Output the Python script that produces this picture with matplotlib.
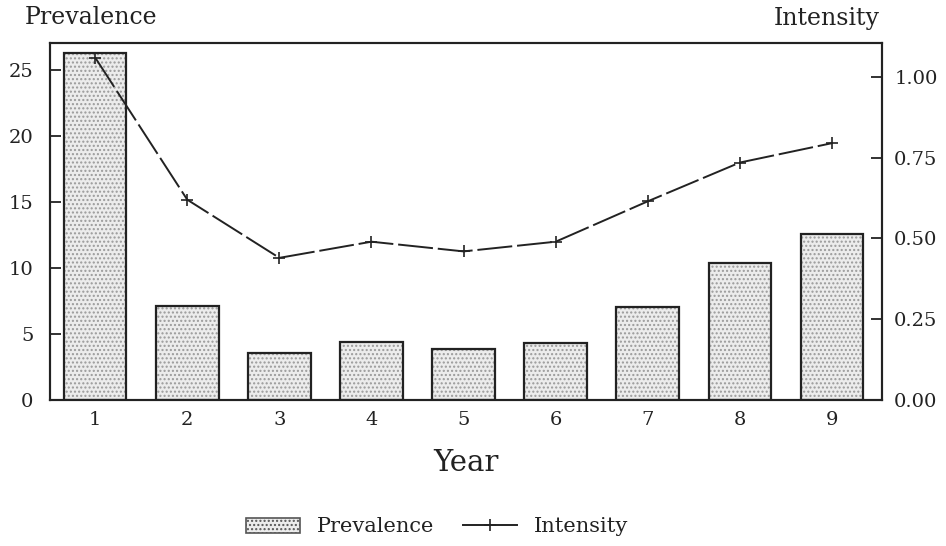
import numpy as np
import matplotlib
matplotlib.use("Agg")
import matplotlib.pyplot as plt
from matplotlib.patches import Patch

# values
years = [1, 2, 3, 4, 5, 6, 7, 8, 9]
prevalence = [26.3, 7.1, 3.55, 4.4, 3.85, 4.3, 7.05, 10.4, 12.6]
intensity = [1.06, 0.62, 0.44, 0.49, 0.46, 0.49, 0.615, 0.735, 0.795]

left_ticks = [0, 5, 10, 15, 20, 25]
right_ticks = [0.0, 0.25, 0.5, 0.75, 1.0]

plt.rcParams['font.family'] = ['DejaVu Serif']
ink = '#222222'

fig = plt.figure(figsize=(9.46, 5.46), dpi=100)
ax = fig.add_axes([0.0529, 0.2674, 0.8791, 0.6538])
ax2 = ax.twinx()

x = np.array(years)
bar_w = 0.68

# stippled fill, then the outline on top
ax.bar(x, prevalence, bar_w, color='#ececec', hatch='....',
       edgecolor='#9a9a9a', linewidth=0, zorder=2)
ax.bar(x, prevalence, bar_w, fill=False, edgecolor=ink, linewidth=1.6, zorder=3)

line, = ax2.plot(x, intensity, color=ink, lw=1.4, dashes=(18, 2.5),
                 marker='+', markersize=9, markeredgewidth=1.2)

ax.set_xlim(0.51, 9.54)
ax.set_ylim(0, 27.05)
ax2.set_ylim(0, 1.105)

ax.set_xticks(x)
ax.set_xticklabels([str(y) for y in years], fontsize=14)
ax.set_yticks(left_ticks)
ax.set_yticklabels([str(t) for t in left_ticks], fontsize=14)
ax2.set_yticks(right_ticks)
ax2.set_yticklabels(["%.2f" % t for t in right_ticks], fontsize=14)

ax.tick_params(axis='both', direction='in', length=8, width=1.3, color=ink, labelcolor=ink)
ax.tick_params(axis='x', pad=8)
ax.tick_params(axis='y', pad=12)
ax2.tick_params(axis='y', direction='in', length=8, width=1.3, color=ink,
                labelcolor=ink, pad=9)

for a in (ax, ax2):
    for s in a.spines.values():
        s.set_linewidth(1.5)
        s.set_color(ink)

ax.set_xlabel("Year", fontsize=21, color=ink, labelpad=14)

fig.text(25 / 946, 1 - 18 / 546, "Prevalence", fontsize=17, color=ink,
         ha='left', va='center')
fig.text(880 / 946, 1 - 18 / 546, "Intensity", fontsize=17, color=ink,
         ha='right', va='center')

h_bar = Patch(facecolor='#ececec', hatch='....', edgecolor='#555555', linewidth=1.2)
h_line = plt.Line2D([], [], color=ink, lw=1.4, marker='+', markersize=9,
                    markeredgewidth=1.2)
fig.legend([h_bar, h_line], ["Prevalence", "Intensity"], loc='center',
           bbox_to_anchor=(437 / 946, 19 / 546), ncol=2, frameon=False,
           fontsize=15, handlelength=2.6, columnspacing=1.4, handletextpad=0.8,
           labelcolor=ink)

fig.savefig("out.png", dpi=100)
